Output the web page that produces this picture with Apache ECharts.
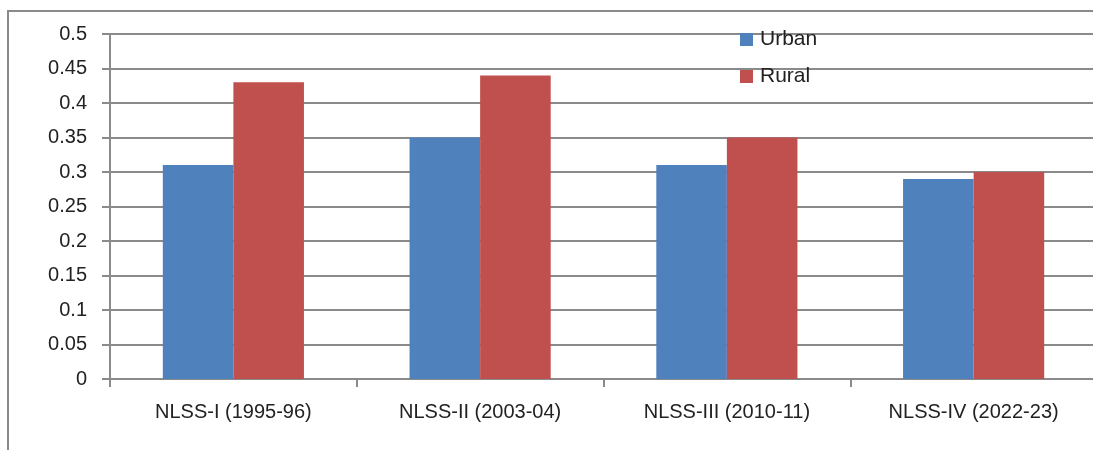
<!DOCTYPE html>
<html>
<head>
<meta charset="utf-8">
<script src="https://cdn.jsdelivr.net/npm/echarts@6/dist/echarts.min.js"></script>
<style>
  html, body { margin: 0; padding: 0; background: #fff; overflow: hidden; }
  #chart { width: 1100px; height: 450px; }
</style>
</head>
<body>
<div id="chart"></div>
<script>
const categories = ['NLSS-I (1995-96)', 'NLSS-II (2003-04)', 'NLSS-III (2010-11)', 'NLSS-IV (2022-23)']
const urban = [0.31, 0.35, 0.31, 0.29]
const rural = [0.43, 0.44, 0.35, 0.30]

const font = 'Liberation Sans'
const myChart = echarts.init(document.getElementById('chart'))
const option = {
  animation: false,
  color: ['#4F81BD', '#C0504D'],
  graphic: [
    {
      type: 'rect',
      shape: { x: 8, y: 11, width: 1200, height: 600 },
      style: { fill: 'none', stroke: '#8a8a8a', lineWidth: 2 },
      silent: true,
      z: -1
    }
  ],
  legend: {
    orient: 'vertical',
    left: 735,
    top: 24,
    itemWidth: 13,
    itemHeight: 13,
    itemGap: 16,
    icon: 'rect',
    textStyle: { fontFamily: font, fontSize: 21, color: '#222', lineHeight: 14, padding: [0, 0, 0, 2] },
    data: ['Urban', 'Rural']
  },
  grid: {
    left: 110,
    right: 3,
    top: 34,
    bottom: 71
  },
  xAxis: {
    type: 'category',
    data: categories,
    axisTick: {
      show: true,
      length: 8,
      lineStyle: { color: '#8a8a8a', width: 2 }
    },
    axisLine: { lineStyle: { color: '#8a8a8a', width: 2 } },
    axisLabel: {
      fontFamily: font,
      fontSize: 20,
      color: '#222',
      margin: 23
    }
  },
  yAxis: {
    type: 'value',
    min: 0,
    max: 0.5,
    interval: 0.05,
    axisLine: { show: true, lineStyle: { color: '#8a8a8a', width: 2 } },
    axisTick: { show: true, length: 8, lineStyle: { color: '#8a8a8a', width: 2 } },
    axisLabel: {
      fontFamily: font,
      fontSize: 20,
      color: '#222',
      margin: 23,
      formatter: v => String(Math.round(v * 100) / 100)
    },
    splitLine: { lineStyle: { color: '#8a8a8a', width: 2 } }
  },
  series: [
    {
      name: 'Urban',
      type: 'bar',
      data: urban,
      barWidth: '28.6%',
      barGap: '0%'
    },
    {
      name: 'Rural',
      type: 'bar',
      data: rural,
      barWidth: '28.6%',
      barGap: '0%'
    }
  ]
}

option && myChart.setOption(option)
</script>
</body>
</html>
